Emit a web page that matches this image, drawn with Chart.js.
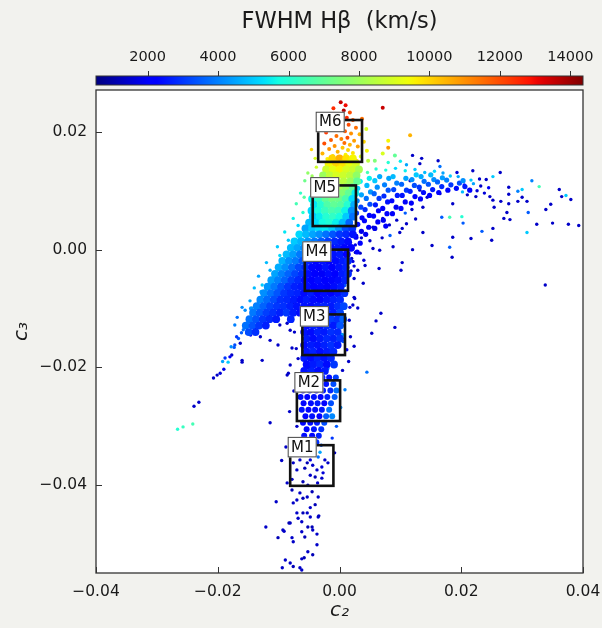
<!DOCTYPE html>
<html><head><meta charset="utf-8">
<script src="https://cdn.jsdelivr.net/npm/chart.js@4.4.1/dist/chart.umd.min.js"></script>
<style>html,body{margin:0;padding:0;background:#f2f2ee;}canvas{display:block;}</style>
</head><body>
<canvas id="c" width="602" height="628"></canvas>
<script>
// ---- axis / colour bar values ----
const xTickValues = [-0.04, -0.02, 0, 0.02, 0.04];
const yTickValues = [-0.04, -0.02, 0, 0.02];
const xRange = [-0.04, 0.04];
const yRange = [-0.0549, 0.0271];
const cbTickValues = [2000, 4000, 6000, 8000, 10000, 12000, 14000];
const fwhmRange = [535, 14360];

// ---- selection boxes (data coordinates) ----
const boxLabels = ['M1', 'M2', 'M3', 'M4', 'M5', 'M6'];
const boxC2Min = [-0.0081, -0.0070, -0.0061, -0.0057, -0.0044, -0.0035];
const boxC2Max = [-0.0010, 0.0001, 0.0009, 0.0014, 0.0027, 0.0037];
const boxC3Min = [-0.0401, -0.0291, -0.0179, -0.0070, 0.0040, 0.0149];
const boxC3Max = [-0.0332, -0.0222, -0.0110, 0.0000, 0.0109, 0.0220];

// ---- points [c2, c3, FWHM Hb] ----
// dense core of the distribution
const denseCore = [
[-0.0012,0.0155,10000],[0.0000,0.0155,10500],[0.0011,0.0155,9800],[0.0022,0.0155,9500],
[-0.0018,0.0146,9500],[-0.0006,0.0146,10000],[0.0005,0.0146,9800],[0.0016,0.0146,9300],[0.0027,0.0146,9000],
[-0.0022,0.0136,8800],[-0.0011,0.0136,9200],[0.0000,0.0136,9500],[0.0011,0.0136,9000],[0.0022,0.0136,8800],[0.0032,0.0136,8200],
[-0.0027,0.0126,8000],[-0.0016,0.0126,8600],[-0.0005,0.0126,9000],[0.0006,0.0126,8800],[0.0017,0.0126,8500],[0.0028,0.0126,7800],
[-0.0026,0.0116,7500],[-0.0015,0.0116,8200],[-0.0004,0.0116,8600],[0.0007,0.0116,8500],[0.0018,0.0116,8000],[0.0029,0.0116,7000],
[-0.0033,0.0106,6800],[-0.0022,0.0106,7500],[-0.0011,0.0106,8000],[0.0000,0.0106,8200],[0.0011,0.0106,7800],[0.0022,0.0106,7000],
[-0.0040,0.0096,6000],[-0.0029,0.0096,6800],[-0.0018,0.0096,7500],[-0.0007,0.0096,7800],[0.0004,0.0096,7600],[0.0015,0.0096,7000],[0.0026,0.0096,5500],
[-0.0045,0.0086,5600],[-0.0034,0.0086,6300],[-0.0023,0.0086,7000],[-0.0012,0.0086,7300],[-0.0001,0.0086,7200],[0.0010,0.0086,6600],[0.0021,0.0086,5200],
[-0.0042,0.0076,5400],[-0.0031,0.0076,6000],[-0.0020,0.0076,6700],[-0.0009,0.0076,7000],[0.0002,0.0076,6800],[0.0013,0.0076,6000],[0.0024,0.0076,4600],
[-0.0046,0.0066,5200],[-0.0035,0.0066,5800],[-0.0024,0.0066,6300],[-0.0013,0.0066,6600],[-0.0002,0.0066,6400],[0.0009,0.0066,5600],[0.0020,0.0066,4200],
[-0.0044,0.0056,5000],[-0.0033,0.0056,5500],[-0.0022,0.0056,6000],[-0.0011,0.0056,6200],[0.0000,0.0056,5800],[0.0011,0.0056,5000],[0.0022,0.0056,3800],
[-0.0050,0.0046,4800],[-0.0039,0.0046,5300],[-0.0028,0.0046,5700],[-0.0017,0.0046,5900],[-0.0006,0.0046,5500],[0.0005,0.0046,4800],[0.0016,0.0046,3600],
[-0.0056,0.0036,4500],[-0.0045,0.0036,5000],[-0.0034,0.0036,5300],[-0.0023,0.0036,5400],[-0.0012,0.0036,5000],[-0.0001,0.0036,4300],[0.0010,0.0036,3300],[0.0021,0.0036,3000],
[-0.0066,0.0026,5200],[-0.0055,0.0026,4800],[-0.0044,0.0026,4500],[-0.0033,0.0026,4200],[-0.0022,0.0026,3800],[-0.0011,0.0026,3400],[0.0000,0.0026,3000],[0.0011,0.0026,2800],[0.0022,0.0026,2500],
[-0.0074,0.0014,5000],[-0.0063,0.0014,4700],[-0.0052,0.0014,4300],[-0.0041,0.0014,3900],[-0.0030,0.0014,3500],[-0.0019,0.0014,3100],[-0.0008,0.0014,2800],[0.0003,0.0014,2600],[0.0014,0.0014,2400],
[-0.0080,0.0003,4800],[-0.0069,0.0003,4500],[-0.0058,0.0003,4100],[-0.0047,0.0003,3500],[-0.0036,0.0003,3000],[-0.0025,0.0003,2700],[-0.0014,0.0003,2400],[-0.0003,0.0003,2600],[0.0008,0.0003,2300],[0.0019,0.0003,2200],
[-0.0087,-0.0008,4800],[-0.0076,-0.0008,4400],[-0.0065,-0.0008,3900],[-0.0054,-0.0008,3400],[-0.0043,-0.0008,2900],[-0.0032,-0.0008,2400],[-0.0021,-0.0008,2200],[-0.0010,-0.0008,2500],[0.0001,-0.0008,2600],[0.0012,-0.0008,2200],
[-0.0094,-0.0019,4700],[-0.0083,-0.0019,4200],[-0.0072,-0.0019,3900],[-0.0061,-0.0019,3400],[-0.0050,-0.0019,2700],[-0.0039,-0.0019,2200],[-0.0028,-0.0019,2500],[-0.0017,-0.0019,2100],[-0.0006,-0.0019,2400],[0.0005,-0.0019,2600],[0.0014,-0.0019,2800],
[-0.0100,-0.0030,4600],[-0.0089,-0.0030,4200],[-0.0078,-0.0030,3700],[-0.0067,-0.0030,3200],[-0.0056,-0.0030,2800],[-0.0045,-0.0030,2300],[-0.0034,-0.0030,2100],[-0.0023,-0.0030,2500],[-0.0012,-0.0030,2200],[-0.0001,-0.0030,2500],[0.0010,-0.0030,2700],
[-0.0106,-0.0041,4500],[-0.0095,-0.0041,4000],[-0.0084,-0.0041,3600],[-0.0073,-0.0041,3200],[-0.0062,-0.0041,2900],[-0.0051,-0.0041,2400],[-0.0040,-0.0041,2200],[-0.0029,-0.0041,2000],[-0.0018,-0.0041,2400],[-0.0007,-0.0041,2200],[0.0004,-0.0041,2600],[0.0014,-0.0041,2800],
[-0.0112,-0.0052,4400],[-0.0101,-0.0052,4000],[-0.0090,-0.0052,3600],[-0.0079,-0.0052,3100],[-0.0068,-0.0052,2800],[-0.0057,-0.0052,2400],[-0.0046,-0.0052,2200],[-0.0035,-0.0052,2400],[-0.0024,-0.0052,2100],[-0.0013,-0.0052,2300],[-0.0002,-0.0052,2400],[0.0009,-0.0052,2700],
[-0.0118,-0.0063,4300],[-0.0107,-0.0063,3900],[-0.0096,-0.0063,3400],[-0.0085,-0.0063,3000],[-0.0074,-0.0063,2700],[-0.0063,-0.0063,2600],[-0.0053,-0.0063,2400],[-0.0042,-0.0063,2200],[-0.0031,-0.0063,2300],[-0.0020,-0.0063,2000],[-0.0009,-0.0063,2400],[0.0002,-0.0063,2600],
[-0.0124,-0.0074,4200],[-0.0113,-0.0074,3800],[-0.0102,-0.0074,3400],[-0.0091,-0.0074,3000],[-0.0080,-0.0074,2800],[-0.0069,-0.0074,2700],[-0.0058,-0.0074,2400],[-0.0047,-0.0074,2600],[-0.0036,-0.0074,2200],[-0.0025,-0.0074,2400],[-0.0014,-0.0074,2300],[-0.0003,-0.0074,2500],[0.0008,-0.0074,2900],
[-0.0130,-0.0085,4100],[-0.0119,-0.0085,3700],[-0.0108,-0.0085,3300],[-0.0097,-0.0085,2900],[-0.0086,-0.0085,2800],[-0.0075,-0.0085,2600],[-0.0064,-0.0085,2400],[-0.0054,-0.0085,2600],[-0.0043,-0.0085,2400],[-0.0032,-0.0085,2300],[-0.0021,-0.0085,2500],[-0.0010,-0.0085,2700],[0.0001,-0.0085,2800],
[-0.0136,-0.0096,4000],[-0.0125,-0.0096,3600],[-0.0114,-0.0096,3200],[-0.0103,-0.0096,3000],[-0.0092,-0.0096,2900],[-0.0081,-0.0096,2700],[-0.0070,-0.0096,2500],[-0.0058,-0.0096,2500],[-0.0047,-0.0096,2400],[-0.0036,-0.0096,2600],[-0.0025,-0.0096,2700],[-0.0014,-0.0096,2600],[-0.0003,-0.0096,2900],[0.0007,-0.0096,3200],
[-0.0142,-0.0107,3900],[-0.0131,-0.0107,3500],[-0.0120,-0.0107,3100],[-0.0109,-0.0107,2900],[-0.0098,-0.0107,2700],[-0.0087,-0.0107,3000],[-0.0076,-0.0107,2600],[-0.0065,-0.0107,2400],[-0.0054,-0.0107,2600],[-0.0043,-0.0107,2400],[-0.0032,-0.0107,2800],[-0.0021,-0.0107,3000],[-0.0010,-0.0107,2600],[0.0001,-0.0107,3200],
[-0.0148,-0.0118,3800],[-0.0137,-0.0118,3400],[-0.0126,-0.0118,3000],[-0.0115,-0.0118,2800],[-0.0104,-0.0118,2600],[-0.0080,-0.0118,2700],[-0.0058,-0.0118,2400],[-0.0047,-0.0118,2600],[-0.0036,-0.0118,2800],[-0.0025,-0.0118,2500],[-0.0014,-0.0118,3100],[-0.0003,-0.0118,2900],[0.0006,-0.0118,3600],
[-0.0154,-0.0129,3800],[-0.0143,-0.0129,3400],[-0.0132,-0.0129,3000],[-0.0121,-0.0129,2700],[-0.0054,-0.0129,2400],[-0.0043,-0.0129,2700],[-0.0032,-0.0129,2500],[-0.0021,-0.0129,2900],[-0.0010,-0.0129,2600],[0.0001,-0.0129,3400],
[-0.0149,-0.0140,3300],[-0.0138,-0.0140,2900],[-0.0058,-0.0140,2500],[-0.0047,-0.0140,2400],[-0.0036,-0.0140,2700],[-0.0025,-0.0140,2600],[-0.0014,-0.0140,2900],[-0.0003,-0.0140,2800],
[-0.0054,-0.0151,2600],[-0.0043,-0.0151,2400],[-0.0032,-0.0151,2600],[-0.0021,-0.0151,2800],[-0.0010,-0.0151,2700],[0.0001,-0.0151,3000],
[-0.0058,-0.0162,2400],[-0.0047,-0.0162,2600],[-0.0036,-0.0162,2500],[-0.0025,-0.0162,2700],[-0.0014,-0.0162,2900],[-0.0003,-0.0162,2600],
[-0.0054,-0.0173,2500],[-0.0043,-0.0173,2700],[-0.0032,-0.0173,2400],[-0.0021,-0.0173,2600],[-0.0010,-0.0173,2800],
[-0.0058,-0.0184,2600],[-0.0047,-0.0184,2400],[-0.0036,-0.0184,2700],[-0.0025,-0.0184,2500],[-0.0014,-0.0184,2800],
[-0.0054,-0.0195,2400],[-0.0043,-0.0195,2600],[-0.0032,-0.0195,2800],[-0.0021,-0.0195,2400],[-0.0009,-0.0195,3000],
[-0.0058,-0.0206,2500],[-0.0046,-0.0206,2700],[-0.0035,-0.0206,2400],[-0.0024,-0.0206,2600]
];

// mixed-colour points scattered through the dense core
const coreMix = [
[-0.0128,-0.0072,4500],[-0.0115,-0.0060,4200],[-0.0120,-0.0090,3800],[-0.0105,-0.0048,4600],[-0.0108,-0.0080,4000],[-0.0096,-0.0040,4400],[-0.0099,-0.0068,3600],[-0.0090,-0.0022,4800],[-0.0088,-0.0055,3900],[-0.0082,-0.0010,4600],[-0.0079,-0.0040,4200],[-0.0072,0.0005,5000],[-0.0070,-0.0028,3800],[-0.0065,0.0018,5200],[-0.0061,-0.0012,4000],[-0.0093,-0.0100,3700],[-0.0112,-0.0102,3500],[-0.0135,-0.0108,3900],[-0.0140,-0.0120,4100],[-0.0125,-0.0122,3600],[-0.0086,-0.0078,3400],[-0.0075,-0.0060,3800],[-0.0145,-0.0100,4300],[-0.0132,-0.0088,4400],
[-0.0102,-0.0088,1400],[-0.0094,-0.0074,1300],[-0.0084,-0.0068,1500],[-0.0117,-0.0112,1400],[-0.0078,-0.0090,1300],[-0.0069,-0.0048,1500],
[-0.0050,-0.0012,4200],[-0.0038,-0.0025,3800],[-0.0025,-0.0040,4500],[-0.0012,-0.0015,3600],[0.0003,-0.0033,4000],[-0.0045,-0.0058,3700],[-0.0018,-0.0062,4100],[0.0008,-0.0060,3500],[-0.0030,-0.0008,1200],[-0.0020,-0.0022,1300],[-0.0042,-0.0038,1200],[-0.0008,-0.0045,1400],[-0.0035,-0.0066,1300],[0.0000,-0.0020,1300],
[-0.0050,-0.0120,3800],[-0.0030,-0.0135,4200],[-0.0008,-0.0125,3600],[-0.0040,-0.0160,3500],[-0.0015,-0.0170,4000],[0.0004,-0.0145,4400],[-0.0055,-0.0145,1300],[-0.0028,-0.0118,1200],[-0.0018,-0.0150,1400],[-0.0045,-0.0175,1300],[-0.0005,-0.0160,1300],
[-0.0040,-0.0190,3600],[-0.0020,-0.0202,3900],[-0.0050,-0.0200,1300],
[-0.0030,0.0090,8200],[-0.0010,0.0070,7800],[0.0005,0.0098,8400],[-0.0038,0.0060,4200],[0.0015,0.0060,3600],[-0.0020,0.0050,7000],[0.0018,0.0085,4000],[-0.0042,0.0080,4500],
[-0.0005,0.0150,11000],[0.0015,0.0140,10800],[-0.0015,0.0130,10500],[0.0020,0.0120,7000],[-0.0020,0.0115,6500],[0.0005,0.0125,11200],[0.0028,0.0150,10500]
];

// right-hand arm of the main sequence
const rightArm = [
[0.0029,-0.0004,2000],[0.0034,0.0011,2200],[0.0027,0.0021,2000],[0.0036,0.0031,1800],[0.0030,0.0043,2400],[0.0037,0.0054,2100],[0.0028,0.0062,3000],[0.0035,0.0072,3200],[0.0029,0.0083,4000],[0.0036,0.0093,4500],[0.0030,0.0104,5000],[0.0034,0.0116,5500],
[0.0043,0.0026,1900],[0.0048,0.0038,2000],[0.0041,0.0049,2300],[0.0049,0.0058,2100],[0.0042,0.0068,2800],[0.0050,0.0077,3300],[0.0044,0.0087,3800],[0.0051,0.0098,4300],[0.0045,0.0109,4800],[0.0049,0.0121,5500],
[0.0058,0.0036,1800],[0.0063,0.0047,2000],[0.0056,0.0057,2200],[0.0064,0.0066,2000],[0.0059,0.0076,2600],[0.0065,0.0087,3000],[0.0057,0.0095,3600],[0.0062,0.0106,4200],[0.0058,0.0117,5000],[0.0066,0.0124,4600],
[0.0072,0.0050,1900],[0.0078,0.0061,2100],[0.0071,0.0070,2000],[0.0079,0.0081,2500],[0.0073,0.0091,2800],[0.0080,0.0101,3400],[0.0074,0.0110,4000],[0.0081,0.0121,4500],[0.0076,0.0040,2000],
[0.0087,0.0061,2000],[0.0093,0.0072,1900],[0.0086,0.0083,2300],[0.0095,0.0092,2600],[0.0089,0.0102,3200],[0.0094,0.0113,4000],[0.0088,0.0124,4800],
[0.0101,0.0070,2100],[0.0108,0.0081,2000],[0.0103,0.0092,2500],[0.0110,0.0101,3000],[0.0102,0.0111,3600],[0.0109,0.0121,4500],
[0.0118,0.0079,2000],[0.0124,0.0090,2200],[0.0116,0.0099,2700],[0.0123,0.0109,3300],[0.0119,0.0119,4200],[0.0126,0.0127,5000],
[0.0133,0.0086,2100],[0.0138,0.0097,2400],[0.0131,0.0106,3000],[0.0139,0.0116,3800],[0.0134,0.0124,4600],
[0.0148,0.0092,2000],[0.0153,0.0102,2600],[0.0146,0.0111,3400],[0.0155,0.0119,4200],[0.0150,0.0127,4800],
[0.0163,0.0097,2200],[0.0168,0.0107,2800],[0.0161,0.0115,3600],[0.0169,0.0122,4400],
[0.0178,0.0101,2300],[0.0183,0.0110,3000],[0.0176,0.0118,4000],
[0.0192,0.0104,2400],[0.0197,0.0113,3300],[0.0206,0.0107,2600],[0.0203,0.0117,4200],[0.0214,0.0101,2200]
];

// medium-density part of the vertical branch (around M2)
const branchMid = [
[-0.0062,-0.0217,2300],[-0.0050,-0.0217,2500],[-0.0039,-0.0217,2300],[-0.0028,-0.0217,2700],[-0.0017,-0.0217,2400],[-0.0006,-0.0217,3100],
[-0.0066,-0.0228,2400],[-0.0055,-0.0228,2200],[-0.0044,-0.0228,2600],[-0.0033,-0.0228,2300],[-0.0022,-0.0228,2500],[-0.0010,-0.0228,3300],
[-0.0060,-0.0239,2300],[-0.0049,-0.0239,2500],[-0.0038,-0.0239,2300],[-0.0027,-0.0239,2600],[-0.0015,-0.0239,2800],[-0.0005,-0.0239,3800],
[-0.0064,-0.0250,2400],[-0.0053,-0.0250,2300],[-0.0042,-0.0250,2500],[-0.0031,-0.0250,2300],[-0.0020,-0.0250,2700],[-0.0008,-0.0250,3500],
[-0.0059,-0.0261,2300],[-0.0047,-0.0261,2400],[-0.0036,-0.0261,2600],[-0.0025,-0.0261,2300],[-0.0014,-0.0261,3300],
[-0.0062,-0.0272,2500],[-0.0051,-0.0272,2300],[-0.0040,-0.0272,2400],[-0.0029,-0.0272,2600],[-0.0017,-0.0272,3800],
[-0.0056,-0.0283,2300],[-0.0045,-0.0283,2500],[-0.0033,-0.0283,2300],[-0.0022,-0.0283,3500],[-0.0012,-0.0283,4100],
[-0.0060,-0.0294,2300],[-0.0048,-0.0294,2400],[-0.0037,-0.0294,2600],[-0.0025,-0.0294,3300],
[-0.0054,-0.0305,2300],[-0.0042,-0.0305,2500],[-0.0030,-0.0305,2900],
[-0.0058,-0.0316,2400],[-0.0045,-0.0316,2300],[-0.0034,-0.0316,2700],
[-0.0062,-0.0327,2300],[-0.0050,-0.0327,2500],[-0.0038,-0.0327,2900]
];

// scattered points around the main sequence
const scattered = [
[0.0132,0.0146,1400],[0.0162,0.0151,1400],[0.0165,0.0141,3800],[0.0193,0.0131,1600],[0.0149,0.0126,5000],[0.0116,0.0117,1400],[0.0165,0.0095,1400],[0.0186,0.0078,1400],[0.0168,0.0055,3500],[0.0181,0.0055,6500],[0.0137,0.0029,1400],[0.0186,0.0021,1400],[0.0152,0.0007,1400],[0.0181,0.0004,3500],[0.0185,-0.0013,1400],[0.0103,0.0036,1400],[0.0099,0.0029,1400],[0.0083,0.0024,3500],[0.0066,-0.0001,1400],[0.0055,0.0002,1400],[0.0103,-0.0022,1400],[0.0101,-0.0035,1400],[0.0042,-0.0027,1400],[0.0034,-0.0006,1400],[0.0039,-0.0057,1400],[0.0025,-0.0083,1400],[0.0017,-0.0098,1600],[0.0119,0.0068,1400],[0.0137,0.0072,1400],[0.0144,0.0089,1400],[0.0132,0.0101,1400],[0.0108,0.0062,3500],[0.0094,0.0050,1400],[0.0071,0.0053,1400],[0.0055,0.0038,1400],
[0.0219,0.0134,1400],[0.0264,0.0131,1400],[0.0252,0.0124,5000],[0.0241,0.0119,1400],[0.0316,0.0117,4000],[0.0328,0.0107,6500],[0.0361,0.0102,1400],[0.0365,0.0090,1400],[0.0380,0.0085,1400],[0.0372,0.0092,5000],[0.0300,0.0102,5000],[0.0293,0.0099,4000],[0.0278,0.0106,1400],[0.0278,0.0094,1400],[0.0300,0.0089,1400],[0.0308,0.0082,1400],[0.0293,0.0082,1400],[0.0278,0.0078,1400],[0.0265,0.0082,1400],[0.0254,0.0072,1400],[0.0252,0.0084,1400],[0.0275,0.0063,1400],[0.0270,0.0053,1400],[0.0280,0.0051,1400],[0.0310,0.0063,3500],[0.0347,0.0077,1400],[0.0339,0.0068,1400],[0.0324,0.0043,1400],[0.0350,0.0045,1400],[0.0376,0.0043,1400],[0.0393,0.0041,1400],[0.0308,0.0029,5000],[0.0252,0.0036,1400],[0.0234,0.0031,3500],[0.0216,0.0019,1400],[0.0250,0.0016,1400],[0.0203,0.0045,3500],[0.0338,-0.0060,1400],[0.0201,0.0056,6000],
[0.0205,0.0110,2000],[0.0213,0.0102,1400],[0.0220,0.0112,4500],[0.0226,0.0100,1600],[0.0232,0.0108,1400],[0.0210,0.0093,1400],[0.0238,0.0096,1600],[0.0224,0.0090,1400],[0.0202,0.0098,4800],[0.0245,0.0105,2000],[0.0216,0.0118,5000],[0.0230,0.0120,1400],[0.0247,0.0090,1400],
[0.0195,0.0124,4500],[0.0182,0.0125,5000],[0.0170,0.0130,4500],[0.0156,0.0133,5200],[0.0140,0.0131,4800],[0.0124,0.0136,5000],[0.0108,0.0134,5500],[0.0092,0.0138,5200],[0.0076,0.0135,5800],[0.0060,0.0137,6000],[0.0046,0.0131,6500],[0.0110,0.0144,4500],[0.0080,0.0148,6000],[0.0135,0.0155,1400],[0.0100,0.0150,5500],[0.0120,0.0160,1400],
[0.0050,0.0015,1400],[0.0070,0.0020,1400],[0.0088,0.0005,1400],[0.0120,0.0000,1400],[0.0110,0.0044,1400],[0.0040,-0.0018,1600],[0.0065,-0.0032,1400],[0.0030,-0.0035,1400],[0.0024,-0.0049,1400],[0.0036,0.0020,1400],[0.0026,0.0008,1800],[0.0020,-0.0015,1400],[0.0024,-0.0028,1600],[0.0082,0.0042,1400],[0.0125,0.0052,1400],[0.0018,0.0012,1400],[0.0026,-0.0005,1400],[0.0022,-0.0020,1700],[0.0019,-0.0036,1400],[0.0028,0.0024,1600],
[0.0068,-0.0108,1400],[0.0060,-0.0121,1400],[0.0091,-0.0132,1400],[0.0053,-0.0142,1400],[0.0045,-0.0208,3800],[0.0030,-0.0099,1400],[0.0016,-0.0120,1400],[0.0022,-0.0094,1400],[0.0024,-0.0081,1400],
[0.0005,-0.0205,1400],[0.0012,-0.0170,2000],[0.0018,-0.0148,1400],[0.0009,-0.0238,4000],[0.0002,-0.0268,4200],[-0.0005,-0.0300,3500],[-0.0012,-0.0320,3000],[-0.0008,-0.0345,1400],[0.0015,-0.0190,1400],[0.0006,-0.0156,3500],[0.0024,-0.0164,1400],
[-0.0084,0.0016,5000],[-0.0098,-0.0010,5200],[-0.0114,-0.0035,4600],[-0.0127,-0.0060,5000],[-0.0147,-0.0087,4500],[-0.0155,-0.0103,4200],[-0.0172,-0.0128,4000],[-0.0068,0.0041,5200],[-0.0060,0.0063,6000],[-0.0071,0.0078,6500],[-0.0058,0.0089,6800],[-0.0057,0.0117,7200],[-0.0064,0.0096,6200],[-0.0076,0.0053,5600],[-0.0090,0.0030,5400],[-0.0102,0.0005,5000],[-0.0120,-0.0022,4800],[-0.0133,-0.0045,4500],[-0.0140,-0.0065,4800],[-0.0160,-0.0098,4200],[-0.0168,-0.0115,3800],[-0.0045,0.0125,8000],[-0.0038,0.0140,8800],[-0.0032,0.0109,7800],[-0.0052,0.0130,7800],[-0.0040,0.0155,9000],[-0.0046,0.0170,10000],
[-0.0161,-0.0141,3500],[-0.0166,-0.0151,3400],[-0.0172,-0.0162,3300],
[-0.0266,-0.0305,6000],[-0.0257,-0.0301,6300],[-0.0241,-0.0296,6500],[-0.0239,-0.0266,1400],[-0.0231,-0.0259,1400],[-0.0201,-0.0213,1400],[-0.0196,-0.0210,1600],[-0.0190,-0.0203,1800],[-0.0183,-0.0191,5000],[-0.0177,-0.0179,1400],[-0.0173,-0.0166,3500],[-0.0163,-0.0159,1400],[-0.0160,-0.0191,1400],[-0.0152,-0.0142,1400],[-0.0188,-0.0184,3000],[-0.0178,-0.0165,4200],[-0.0169,-0.0148,3000],[-0.0158,-0.0136,3800],[-0.0146,-0.0145,2000],[-0.0138,-0.0132,1600],[-0.0130,-0.0148,1400],[-0.0122,-0.0126,1800],[-0.0207,-0.0218,1400],[-0.0192,-0.0190,4500],[-0.0180,-0.0182,2000],
[-0.0098,-0.0128,1400],[-0.0086,-0.0125,1400],[-0.0081,-0.0137,1400],[-0.0101,-0.0162,1400],[-0.0078,-0.0167,1400],[-0.0114,-0.0154,1400],[-0.0127,-0.0188,1400],[-0.0160,-0.0188,1400],[-0.0081,-0.0196,1400],[-0.0086,-0.0213,1400],[-0.0114,-0.0294,1400],[-0.0084,-0.0210,1400],[-0.0071,-0.0168,1400],[-0.0074,-0.0140,1400],[-0.0068,-0.0185,1400],[-0.0075,-0.0240,1400],[-0.0082,-0.0275,1400],[-0.0070,-0.0300,1400],[-0.0088,-0.0335,1400],[-0.0095,-0.0358,1400],
[0.0009,-0.0015,11000],[-0.0004,-0.0055,10500],
[-0.0065,-0.0357,1400],[-0.0053,-0.0362,1200],[-0.0048,-0.0357,1600],[-0.0044,-0.0366,1400],[-0.0057,-0.0371,1200],[-0.0037,-0.0374,1400],[-0.0029,-0.0369,1600],[-0.0019,-0.0362,1400],[-0.0032,-0.0344,4500],[-0.0035,-0.0352,3800],[-0.0048,-0.0383,1400],[-0.0040,-0.0386,1200],[-0.0029,-0.0388,1400],[-0.0070,-0.0374,1400],[-0.0076,-0.0362,1400],[-0.0062,-0.0345,1400],[-0.0024,-0.0357,1400],[-0.0027,-0.0379,1600],[-0.0055,-0.0338,1400],[-0.0042,-0.0340,3000],[-0.0030,-0.0332,3500],[-0.0068,-0.0334,1400],[-0.0078,-0.0390,1400],[-0.0060,-0.0394,1200],[-0.0036,-0.0396,1400],[-0.0052,-0.0400,1400],
[-0.0086,-0.0396,1400],[-0.0078,-0.0408,1200],[-0.0065,-0.0413,1400],[-0.0060,-0.0422,1200],[-0.0070,-0.0425,1400],[-0.0053,-0.0420,1400],[-0.0045,-0.0411,1200],[-0.0035,-0.0420,1400],[-0.0048,-0.0438,1400],[-0.0040,-0.0433,1200],[-0.0104,-0.0428,1400],[-0.0076,-0.0430,1400],[-0.0060,-0.0447,1200],[-0.0068,-0.0456,1400],[-0.0048,-0.0454,1400],[-0.0034,-0.0452,1200],[-0.0081,-0.0464,1400],[-0.0062,-0.0462,1400],[-0.0052,-0.0471,1200],[-0.0044,-0.0476,1400],[-0.0121,-0.0471,1400],[-0.0093,-0.0476,1400],[-0.0101,-0.0489,1200],[-0.0078,-0.0489,1400],[-0.0076,-0.0496,1400],[-0.0057,-0.0488,1200],[-0.0037,-0.0483,1400],[-0.0052,-0.0513,1400],[-0.0044,-0.0518,1200],[-0.0089,-0.0527,1400],[-0.0062,-0.0525,1400],[-0.0076,-0.0538,1200],[-0.0094,-0.0540,1400],[-0.0065,-0.0540,1400],[-0.0091,-0.0478,1400],[-0.0083,-0.0464,1200],[-0.0070,-0.0447,1400],[-0.0053,-0.0447,1400],[-0.0045,-0.0471,1200],[-0.0035,-0.0454,1400],[-0.0062,-0.0479,1400],[-0.0081,-0.0532,1400],[-0.0058,-0.0523,1200],[-0.0037,-0.0501,1400],[-0.0062,-0.0544,1400]
];

// broad-line (high FWHM) top of the vertical branch
const topBranch = [
[0.0002,0.0250,13500],[0.0010,0.0245,13000],[-0.0010,0.0240,12500],[0.0007,0.0236,13800],[0.0017,0.0233,12000],[-0.0003,0.0228,13000],[0.0012,0.0224,12500],[0.0022,0.0220,11800],[-0.0008,0.0218,12800],[0.0005,0.0215,13200],[0.0015,0.0212,12000],[-0.0015,0.0208,12500],[0.0027,0.0207,11500],[0.0000,0.0205,12200],[0.0009,0.0201,11800],[-0.0022,0.0199,12300],[0.0019,0.0197,11000],[0.0033,0.0196,10500],[-0.0005,0.0193,11500],[0.0013,0.0190,12000],[0.0003,0.0188,11200],[-0.0014,0.0186,11800],[0.0024,0.0185,10800],[0.0040,0.0183,10000],[0.0008,0.0181,11500],[-0.0025,0.0180,12000],[0.0017,0.0178,10500],[-0.0008,0.0176,11000],[0.0030,0.0175,10800],[0.0005,0.0173,10200],[-0.0017,0.0171,11000],[0.0014,0.0169,10000],[0.0045,0.0168,9500],[-0.0003,0.0166,10500],[0.0022,0.0164,9800],[-0.0028,0.0163,10500],[0.0010,0.0161,9500],[-0.0011,0.0159,10000],[0.0035,0.0158,9000],[0.0002,0.0156,9300],[-0.0020,0.0154,9600],[0.0018,0.0152,9000],
[0.0071,0.0241,13500],[0.0037,0.0222,11500],[0.0080,0.0185,9500],[0.0116,0.0194,10500],[0.0044,0.0205,9000],[0.0080,0.0173,11000],[0.0047,0.0151,8500],[0.0058,0.0151,7500],[0.0091,0.0160,7000],[0.0071,0.0163,9000]
];

// ---- jet colormap ----
function seg(t, pts){
  for (let i = 1; i < pts.length; i++){
    if (t <= pts[i][0]){
      const [t0,v0] = pts[i-1], [t1,v1] = pts[i];
      return v0 + (v1 - v0) * (t - t0) / (t1 - t0);
    }
  }
  return pts[pts.length-1][1];
}
function jet(t){
  t = Math.max(0, Math.min(1, t));
  const r = seg(t, [[0,0],[0.35,0],[0.66,1],[0.89,1],[1,0.5]]);
  const g = seg(t, [[0,0],[0.125,0],[0.375,1],[0.64,1],[0.91,0],[1,0]]);
  const b = seg(t, [[0,0.5],[0.11,1],[0.34,1],[0.65,0],[1,0]]);
  return `rgb(${Math.round(r*255)},${Math.round(g*255)},${Math.round(b*255)})`;
}
const fwhmColor = v => jet((v - fwhmRange[0]) / (fwhmRange[1] - fwhmRange[0]));
const toXY = arr => arr.map(p => ({x: p[0], y: p[1]}));
const toCol = arr => arr.map(p => fwhmColor(p[2]));
const fmt = v => Math.abs(v) < 1e-9 ? '0.00' : v.toFixed(2).replace('-', '\u2212');

const FONT = 'DejaVu Sans';
const INK = '#1a1a1a';

const decor = {
  id: 'decor',
  beforeDatasetsDraw(chart){
    const {ctx, chartArea: a} = chart;
    ctx.save();
    ctx.fillStyle = '#ffffff';
    ctx.fillRect(a.left, a.top, a.right - a.left, a.bottom - a.top);
    ctx.restore();
  },
  afterDatasetsDraw(chart){
    const {ctx, chartArea: a, scales} = chart;
    const xs = scales.x, ys = scales.y, cb = scales.cb;
    ctx.save();
    const geo = boxLabels.map((lab, i) => ({
      lab,
      x0: xs.getPixelForValue(boxC2Min[i]), x1: xs.getPixelForValue(boxC2Max[i]),
      y0: ys.getPixelForValue(boxC3Max[i]), y1: ys.getPixelForValue(boxC3Min[i])
    }));
    ctx.lineWidth = 2.6; ctx.strokeStyle = '#111';
    geo.forEach(g => ctx.strokeRect(g.x0, g.y0, g.x1 - g.x0, g.y1 - g.y0));
    ctx.font = `15px "${FONT}"`; ctx.textAlign = 'center'; ctx.textBaseline = 'middle';
    geo.forEach(g => {
      const lx = g.x0 - 2.5, ly = g.y0 - 8.3, w = 29, h = 20.5;
      ctx.fillStyle = '#fff'; ctx.fillRect(lx, ly, w, h);
      ctx.lineWidth = 1; ctx.strokeStyle = '#444'; ctx.strokeRect(lx + 0.5, ly + 0.5, w - 1, h - 1);
      ctx.fillStyle = '#111'; ctx.fillText(g.lab, lx + w / 2, ly + h / 2 + 0.5);
    });
    ctx.lineWidth = 1.3; ctx.strokeStyle = '#333';
    ctx.strokeRect(a.left, a.top, a.right - a.left, a.bottom - a.top);
    ctx.lineWidth = 1; ctx.strokeStyle = '#333';
    ctx.beginPath();
    xTickValues.forEach(v => { const px = Math.round(xs.getPixelForValue(v)) + 0.5; ctx.moveTo(px, a.bottom); ctx.lineTo(px, a.bottom - 6); });
    yTickValues.forEach(v => { const py = Math.round(ys.getPixelForValue(v)) + 0.5; ctx.moveTo(a.left, py); ctx.lineTo(a.left + 6, py); });
    ctx.stroke();
    const cx0 = cb.getPixelForValue(fwhmRange[0]), cx1 = cb.getPixelForValue(fwhmRange[1]);
    const barTop = a.top - 14, barH = 9;
    const grad = ctx.createLinearGradient(cx0, 0, cx1, 0);
    for (let i = 0; i <= 64; i++) grad.addColorStop(i / 64, jet(i / 64));
    ctx.fillStyle = grad; ctx.fillRect(cx0, barTop, cx1 - cx0, barH);
    ctx.lineWidth = 1; ctx.strokeStyle = '#333';
    ctx.strokeRect(cx0, barTop, cx1 - cx0, barH);
    ctx.beginPath();
    cbTickValues.forEach(v => { const px = Math.round(cb.getPixelForValue(v)) + 0.5; ctx.moveTo(px, barTop); ctx.lineTo(px, barTop - 5); });
    ctx.stroke();
    ctx.restore();
  }
};

const noSidePad = s => { s.paddingLeft = 0; s.paddingRight = 0; };
const noEndPad = s => { s.paddingTop = 0; s.paddingBottom = 0; };

new Chart(document.getElementById('c').getContext('2d'), {
  type: 'scatter',
  data: {
    datasets: [
      {data: toXY(denseCore), backgroundColor: toCol(denseCore), pointRadius: 3.9, pointBorderWidth: 0, pointHoverRadius: 3.9},
      {data: toXY(coreMix), backgroundColor: toCol(coreMix), pointRadius: 2.3, pointBorderWidth: 0, pointHoverRadius: 2.3},
      {data: toXY(rightArm), backgroundColor: toCol(rightArm), pointRadius: 2.6, pointBorderWidth: 0, pointHoverRadius: 2.6},
      {data: toXY(branchMid), backgroundColor: toCol(branchMid), pointRadius: 3.0, pointBorderWidth: 0, pointHoverRadius: 3.0},
      {data: toXY(scattered), backgroundColor: toCol(scattered), pointRadius: 1.7, pointBorderWidth: 0, pointHoverRadius: 1.7},
      {data: toXY(topBranch), backgroundColor: toCol(topBranch), pointRadius: 2.0, pointBorderWidth: 0, pointHoverRadius: 2.0}
    ]
  },
  options: {
    responsive: false, animation: false, events: [],
    layout: {padding: {left: 0, right: 19, top: 0, bottom: 0}},
    plugins: {legend: {display: false}, tooltip: {enabled: false}},
    scales: {
      x: {
        type: 'linear', position: 'bottom', min: xRange[0], max: xRange[1],
        afterBuildTicks: s => { s.ticks = xTickValues.map(v => ({value: v})); },
        afterFit: s => { s.height = 55; noSidePad(s); },
        grid: {display: false, drawTicks: false}, border: {display: false},
        ticks: {padding: 10, color: INK, autoSkip: false, maxRotation: 0, font: {family: FONT, size: 15.5}, callback: v => fmt(v)},
        title: {display: true, text: 'c\u2082', color: INK, font: {family: FONT, size: 20, style: 'italic'}, padding: {top: 0, bottom: 5}}
      },
      y: {
        type: 'linear', position: 'left', min: yRange[0], max: yRange[1],
        afterBuildTicks: s => { s.ticks = yTickValues.map(v => ({value: v})); },
        afterFit: s => { s.width = 96; noEndPad(s); },
        grid: {display: false, drawTicks: false}, border: {display: false},
        ticks: {padding: 9, color: INK, autoSkip: false, font: {family: FONT, size: 15.5}, callback: v => fmt(v)},
        title: {display: true, text: 'c\u2083', color: INK, font: {family: FONT, size: 20, style: 'italic'}, padding: {top: 10, bottom: 0}}
      },
      cb: {
        type: 'linear', axis: 'x', position: 'top', min: fwhmRange[0], max: fwhmRange[1],
        afterBuildTicks: s => { s.ticks = cbTickValues.map(v => ({value: v})); },
        afterFit: s => { s.height = 90; noSidePad(s); },
        grid: {display: false, drawTicks: false}, border: {display: false},
        ticks: {padding: 24, color: INK, autoSkip: false, maxRotation: 0, font: {family: FONT, size: 14.5}, callback: v => String(v)},
        title: {display: true, text: 'FWHM H\u03B2  (km/s)', color: INK, font: {family: FONT, size: 22.5}, padding: {top: 9, bottom: 0}}
      }
    }
  },
  plugins: [decor]
});
</script>
</body></html>
